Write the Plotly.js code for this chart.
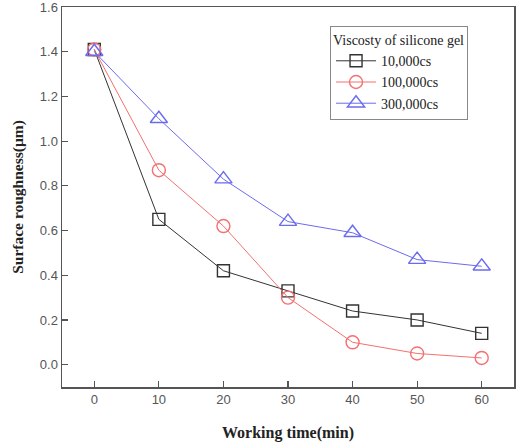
<!DOCTYPE html>
<html>
<head>
<meta charset="utf-8">
<script src="https://cdn.plot.ly/plotly-3.0.1.min.js"></script>
<style>
  html, body { margin: 0; padding: 0; background: #fff; }
  #chart { width: 521px; height: 442px; }
</style>
</head>
<body>
<div id="chart"></div>
<script>
// Working time (min)
const times = [0, 10, 20, 30, 40, 50, 60];

// Surface roughness (µm) per silicone gel viscosity
const rough10k  = [1.41, 0.65, 0.42, 0.33, 0.24, 0.20, 0.14];
const rough100k = [1.41, 0.87, 0.62, 0.30, 0.10, 0.05, 0.03];
const rough300k = [1.40, 1.10, 0.83, 0.64, 0.59, 0.47, 0.44];

const seriesNames = ['10,000cs', '100,000cs', '300,000cs'];
const yTicks = [0.0, 0.2, 0.4, 0.6, 0.8, 1.0, 1.2, 1.4, 1.6];
const xTicks = [0, 10, 20, 30, 40, 50, 60];

const serif = 'Liberation Serif, Times New Roman, serif';
const sans = 'Liberation Sans, Arial, sans-serif';

function series(y, name, color, symbol, size) {
  return {
    x: times, y: y, name: name, type: 'scatter', mode: 'lines+markers',
    line: { color: color, width: 1 },
    marker: { symbol: symbol, size: size, color: color, line: { color: color, width: 1.4 } }
  };
}

const data = [
  series(rough10k, seriesNames[0], '#333333', 'square-open', 12),
  series(rough100k, seriesNames[1], '#f47070', 'circle-open', 13),
  series(rough300k, seriesNames[2], '#6b6bef', 'triangle-up-open', 15)
];

const axisCommon = {
  showgrid: false, zeroline: false,
  showline: true, linecolor: '#555', linewidth: 1.5, mirror: true,
  ticks: 'inside', ticklen: 6, tickwidth: 1.2, tickcolor: '#555',
  ticklabeloverflow: 'allow',
  tickfont: { family: sans, size: 13, color: '#555' }
};

const layout = {
  width: 521, height: 442,
  margin: { l: 62, r: 7, t: 7, b: 55 },
  paper_bgcolor: '#fff', plot_bgcolor: '#fff',
  showlegend: true,
  xaxis: Object.assign({}, axisCommon, {
    range: [-5, 65], tickvals: xTicks,
    title: { text: 'Working time(min)', font: { family: serif, size: 16, color: '#222', weight: 'bold' }, standoff: 20 }
  }),
  yaxis: Object.assign({}, axisCommon, {
    range: [-0.1, 1.6], tickvals: yTicks, tickformat: '.1f',
    title: { text: 'Surface roughness(\u03bcm)', font: { family: serif, size: 15.5, color: '#222', weight: 'bold' }, standoff: 12 }
  }),
  legend: {
    x: 0.593, y: 0.95, xanchor: 'left', yanchor: 'top',
    bgcolor: '#fff', bordercolor: '#888', borderwidth: 1,
    font: { family: serif, size: 14, color: '#222' },
    title: { text: 'Viscosty of silicone gel', font: { family: serif, size: 14, color: '#222' } },
    itemwidth: 40, tracegroupgap: 0
  }
};

Plotly.newPlot('chart', data, layout, { displayModeBar: false, staticPlot: true });
</script>
</body>
</html>
